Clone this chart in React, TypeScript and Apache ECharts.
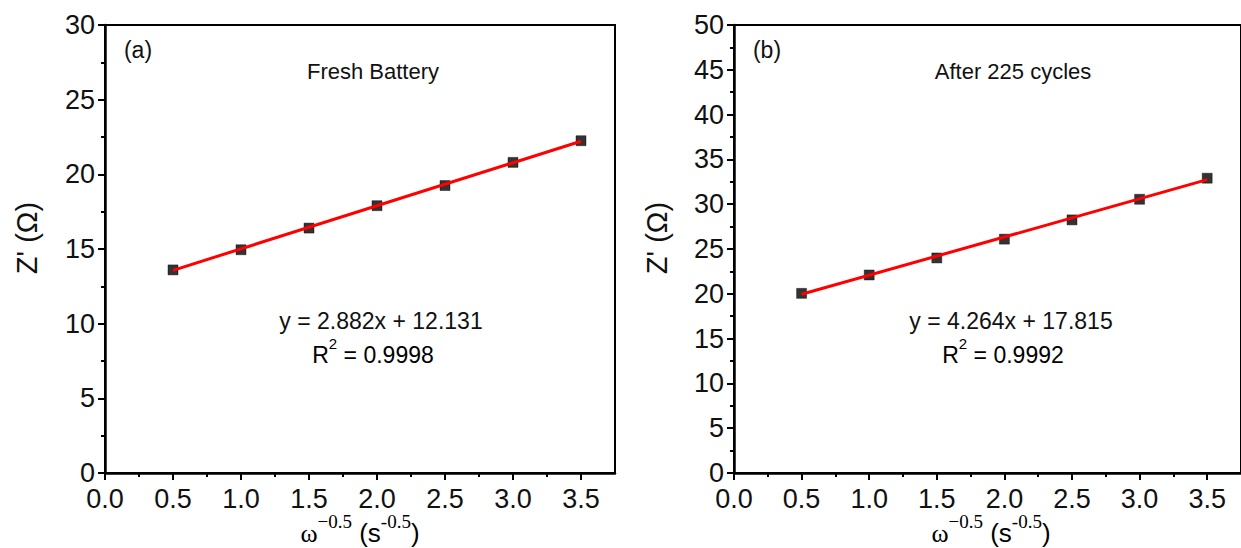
import React, { useEffect, useRef } from 'react';
import * as echarts from 'echarts';

// Warburg plots: real impedance vs inverse square root of angular frequency
const xValues = [0.5, 1.0, 1.5, 2.0, 2.5, 3.0, 3.5];
const freshZ = [13.6, 14.95, 16.4, 17.9, 19.25, 20.8, 22.25];
const cycledZ = [20.05, 22.1, 24.0, 26.1, 28.25, 30.55, 32.9];

const fitSlopes = [2.882, 4.264];
const fitIntercepts = [12.131, 17.815];
const fitR2 = ['0.9998', '0.9992'];

const panelTags = ['(a)', '(b)'];
const panelTitles = ['Fresh Battery', 'After 225 cycles'];
const yMaxValues = [30, 50];

const xMajorTicks = [0, 0.5, 1.0, 1.5, 2.0, 2.5, 3.0, 3.5];
const xMinorTicks = [0.25, 0.75, 1.25, 1.75, 2.25, 2.75, 3.25];

const SANS = '"Liberation Sans", Arial, sans-serif';
const SERIF = '"Liberation Serif", "Times New Roman", serif';

const panelLeft = [105, 734];
const PLOT_TOP = 25;
const PLOT_W = 510;
const PLOT_H = 448;

function fitLine(i: number): number[][] {
  const x0 = xValues[0];
  const x1 = xValues[xValues.length - 1];
  return [
    [x0, fitSlopes[i] * x0 + fitIntercepts[i]],
    [x1, fitSlopes[i] * x1 + fitIntercepts[i]],
  ];
}

function fmt(n: number): string {
  return n.toFixed(3);
}

export default function App() {
  const ref = useRef<HTMLDivElement>(null);

  useEffect(() => {
    if (!ref.current) return;
    document.body.style.margin = '0';
    const chart = echarts.init(ref.current, null, { renderer: 'svg' });

    const grids = panelLeft.map((left) => ({
      left,
      top: PLOT_TOP,
      width: PLOT_W,
      height: PLOT_H,
      show: true,
      borderColor: '#000',
      borderWidth: 2,
      backgroundColor: 'transparent',
    }));

    const mainX = [0, 1].map((i) => ({
      type: 'value',
      gridIndex: i,
      min: 0,
      max: 3.75,
      interval: 0.5,
      position: 'bottom',
      axisLine: { show: true, onZero: false, lineStyle: { color: '#000', width: 2.5 } },
      axisTick: {
        show: true,
        inside: false,
        length: 7,
        customValues: xMajorTicks,
        lineStyle: { color: '#000', width: 2 },
      },
      axisLabel: {
        customValues: xMajorTicks,
        formatter: (v: number) => v.toFixed(1),
        fontSize: 27,
        fontFamily: SANS,
        color: '#111',
        margin: 12,
      },
      splitLine: { show: false },
    }));

    const minorX = [0, 1].map((i) => ({
      type: 'value',
      gridIndex: i,
      min: 0,
      max: 3.75,
      interval: 0.25,
      position: 'bottom',
      offset: 0,
      axisLine: { show: false },
      axisTick: {
        show: true,
        inside: false,
        length: 4,
        customValues: xMinorTicks,
        lineStyle: { color: '#000', width: 2 },
      },
      axisLabel: { show: false },
      splitLine: { show: false },
    }));

    const yAxes = [0, 1].map((i) => ({
      type: 'value',
      gridIndex: i,
      min: 0,
      max: yMaxValues[i],
      interval: 5,
      axisLine: { show: true, onZero: false, lineStyle: { color: '#000', width: 2.5 } },
      axisTick: { show: true, inside: false, length: 7, lineStyle: { color: '#000', width: 2 } },
      minorTick: { show: true, splitNumber: 2, length: 4, lineStyle: { color: '#000', width: 2 } },
      axisLabel: { fontSize: 27, fontFamily: SANS, color: '#111', margin: 10 },
      splitLine: { show: false },
      minorSplitLine: { show: false },
    }));

    const dataSets = [freshZ, cycledZ];
    const series: any[] = [];
    [0, 1].forEach((i) => {
      series.push({
        type: 'scatter',
        xAxisIndex: i,
        yAxisIndex: i,
        symbol: 'rect',
        symbolSize: 10,
        itemStyle: { color: '#000', borderColor: '#000', borderWidth: 0.5 },
        data: xValues.map((x, k) => [x, dataSets[i][k]]),
        z: 2,
      });
      series.push({
        type: 'line',
        xAxisIndex: i,
        yAxisIndex: i,
        showSymbol: false,
        symbol: 'none',
        lineStyle: { color: '#ff0000', width: 3 },
        data: fitLine(i),
        z: 3,
      });
    });

    const titleCenters = [373, 1013];
    const r2Centers = [373, 1003];
    const eqCenters = [381, 1011];
    const labelCenters = [360, 991];
    const graphic: any[] = [];
    [0, 1].forEach((i) => {
      const left = panelLeft[i];
      graphic.push({
        type: 'text',
        x: left + 33,
        y: 50,
        style: {
          text: panelTags[i],
          font: `23px ${SANS}`,
          fill: '#111',
          align: 'center',
          verticalAlign: 'middle',
        },
      });
      graphic.push({
        type: 'text',
        x: titleCenters[i],
        y: 71,
        style: {
          text: panelTitles[i],
          font: `22px ${SANS}`,
          fill: '#111',
          align: 'center',
          verticalAlign: 'middle',
        },
      });
      graphic.push({
        type: 'text',
        x: eqCenters[i],
        y: 321,
        style: {
          text: `y = ${fmt(fitSlopes[i])}x + ${fmt(fitIntercepts[i])}`,
          font: `23px ${SANS}`,
          fill: '#111',
          align: 'center',
          verticalAlign: 'middle',
        },
      });
      graphic.push({
        type: 'text',
        x: r2Centers[i],
        y: 336,
        style: {
          text: `{n|R}{s|2}{n| = ${fitR2[i]}}`,
          align: 'center',
          verticalAlign: 'top',
          rich: {
            n: {
              fontSize: 23,
              fontFamily: SANS,
              color: '#111',
              lineHeight: 30,
              verticalAlign: 'bottom',
            },
            s: {
              fontSize: 15,
              fontFamily: SANS,
              color: '#111',
              lineHeight: 26,
              verticalAlign: 'top',
            },
          },
        },
      });
      // y-axis title
      graphic.push({
        type: 'text',
        x: i === 0 ? 27 : 657,
        y: 238,
        rotation: Math.PI / 2,
        style: {
          text: "Z' (Ω)",
          font: `29px ${SANS}`,
          fill: '#111',
          align: 'center',
          verticalAlign: 'middle',
        },
      });
      // x-axis title
      graphic.push({
        type: 'text',
        x: labelCenters[i],
        y: 512,
        style: {
          text: '{w|ω}{sa|−0.5}{p| (s}{sb|-0.5}{p|)}',
          align: 'center',
          verticalAlign: 'top',
          rich: {
            w: {
              fontSize: 26,
              fontFamily: SERIF,
              color: '#111',
              lineHeight: 34,
              verticalAlign: 'bottom',
            },
            p: {
              fontSize: 26,
              fontFamily: SANS,
              color: '#111',
              lineHeight: 34,
              verticalAlign: 'bottom',
            },
            sa: {
              fontSize: 19,
              fontFamily: SERIF,
              color: '#111',
              lineHeight: 32,
              verticalAlign: 'top',
            },
            sb: {
              fontSize: 19,
              fontFamily: SERIF,
              color: '#111',
              lineHeight: 32,
              verticalAlign: 'top',
            },
          },
        },
      });
    });

    chart.setOption({
      animation: false,
      backgroundColor: '#fff',
      grid: grids,
      xAxis: [...mainX, ...minorX],
      yAxis: yAxes,
      series,
      graphic,
    });

    return () => {
      chart.dispose();
    };
  }, []);

  return (
    <div
      ref={ref}
      style={{ position: 'fixed', left: 0, top: 0, width: 1241, height: 548, background: '#fff' }}
    />
  );
}
